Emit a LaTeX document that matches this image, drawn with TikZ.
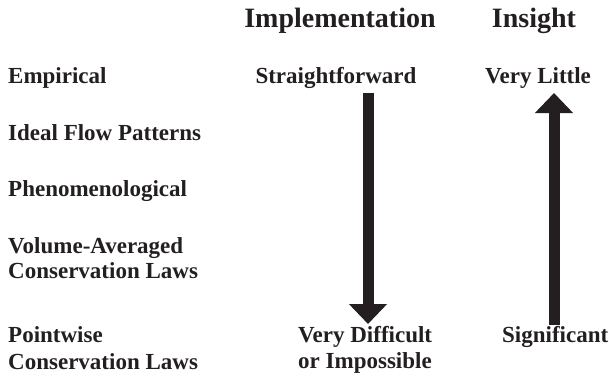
\documentclass[tikz,border=0pt]{standalone}
\usepackage{fontspec}
\setmainfont{Liberation Serif}
\usetikzlibrary{arrows.meta}
\definecolor{ink}{RGB}{35,31,32}
\begin{document}
\begin{tikzpicture}[x=1pt,y=1pt,
  lbl/.style={inner sep=0pt,text=ink,font=\fontsize{23}{26}\selectfont\bfseries},
  hdr/.style={inner sep=0pt,text=ink,font=\fontsize{28}{32}\selectfont\bfseries},
  bigarrow/.style={draw=ink,line width=11pt,-{Triangle[width=37pt,length=20pt]},ink}]
\useasboundingbox (0,0) rectangle (609,376);
% headers
\node[hdr,anchor=base] (impl) at (340,349) {Implementation};
\node[hdr,anchor=base] (ins) at (534,349) {Insight};
% left column
\node[lbl,anchor=base west] (emp) at (8,293) {Empirical};
\node[lbl,anchor=base west] (ideal) at (8,236) {Ideal Flow Patterns};
\node[lbl,anchor=base west] (phen) at (8,180) {Phenomenological};
\node[lbl,anchor=base west] (vol1) at (8,123) {Volume-Averaged};
\node[lbl,anchor=base west] (vol2) at (8,98) {Conservation Laws};
\node[lbl,anchor=base west] (pw1) at (8,34) {Pointwise};
\node[lbl,anchor=base west] (pw2) at (8,7) {Conservation Laws};
% implementation column
\node[lbl,anchor=base] (sf) at (336,293) {Straightforward};
\node[lbl,anchor=base west] (vd1) at (298,34) {Very Difficult};
\node[lbl,anchor=base west] (vd2) at (298,8) {or Impossible};
% insight column
\node[lbl,anchor=base] (vl) at (538,293) {Very Little};
\node[lbl,anchor=base west] (sig) at (502,34) {Significant};
% arrows
\coordinate (dtop) at (368,283);
\coordinate (dbot) at (368,52);
\coordinate (ubot) at (554,51);
\coordinate (utop) at (554,283);
\draw[bigarrow] (dtop) -- (dbot);
\draw[bigarrow] (ubot) -- (utop);
\end{tikzpicture}
\end{document}
